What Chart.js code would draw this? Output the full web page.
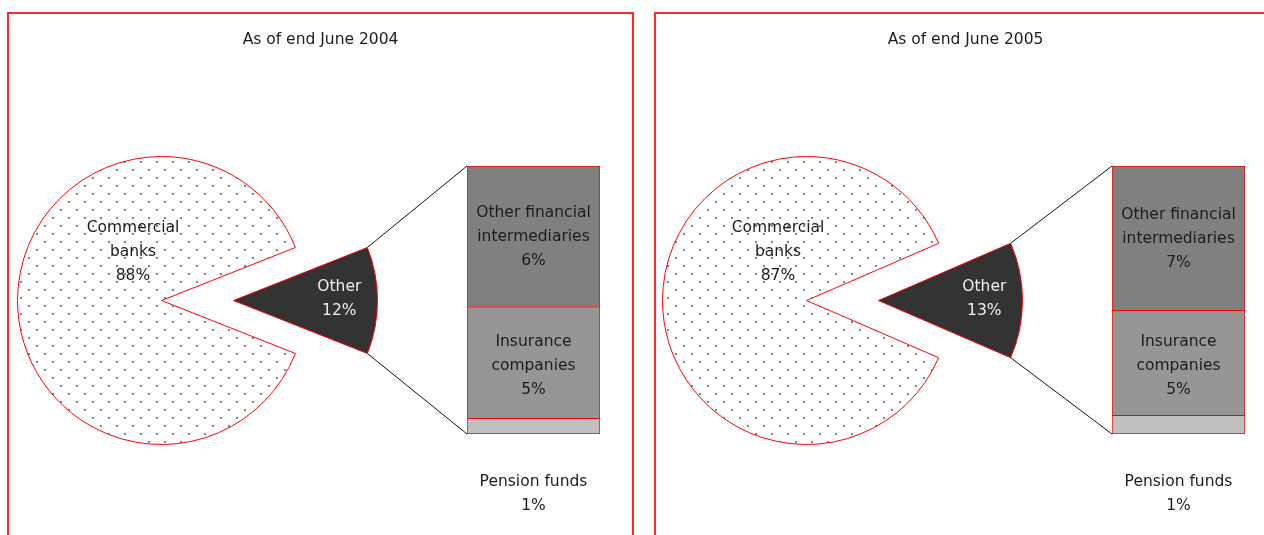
<!DOCTYPE html>
<html lang="en">
<head>
  <meta charset="UTF-8">
  <title>Holders by sector</title>
  <script src="https://cdn.jsdelivr.net/npm/chart.js"></script>
  <style>
    body {
      margin: 0;
      width: 1264px;
      height: 535px;
      overflow: hidden;
      position: relative;
      background: #fff;
    }

    /* red panel frames, open at the bottom / right edge of the picture */
    .frame {
      position: absolute;
      top: 12px;
      width: 627px;
      height: 600px;
      border: 2px solid #ff2a2a;
      box-sizing: border-box;
    }

    canvas {
      position: absolute;
    }
  </style>
</head>
<body>
  <div class="frame" style="left: 7px;"></div>
  <div class="frame" style="left: 654px;"></div>

  <script>
    // data
    const titles = ['As of end June 2004', 'As of end June 2005'];
    const pieLabels = [['Commercial', 'banks'], ['Other']];
    const pieShares = [[88, 12], [87, 13]];
    const barLabels = [['Pension funds'], ['Insurance', 'companies'], ['Other financial', 'intermediaries']];
    const barShares = [[0.7, 5.0, 6.3], [0.9, 5.1, 7.0]];

    // look
    const FONT = "15.5px 'DejaVu Sans', sans-serif";
    const TEXT = '#1c1c1c';
    const RED = '#ff0000';
    const NONE = 'rgba(0,0,0,0)';
    const barColors = ['#c0c0c0', '#969696', '#808080'];
    const R = 144;        // pie radius
    const EXPLODE = 72;   // how far the "Other" slice is pulled out
    const LINE = 24;      // label line height
    const SHIFT = [0, 645];
    const FRAME_X = [7, 654];

    const pct = v => Math.round(v) + '%';

    function makeCanvas(x, y, w, h, z) {
      const c = document.createElement('canvas');
      c.width = w;
      c.height = h;
      c.style.left = x + 'px';
      c.style.top = y + 'px';
      c.style.width = w + 'px';
      c.style.height = h + 'px';
      c.style.zIndex = z || 1;
      document.body.appendChild(c);
      return c;
    }

    function dots(ctx) {
      const c = document.createElement('canvas');
      c.width = 16;
      c.height = 16;
      const g = c.getContext('2d');
      g.fillStyle = '#5a5a5a';
      [[4, 4], [12, 12]].forEach(([x, y]) => {
        g.beginPath();
        g.arc(x, y, 1, 0, Math.PI * 2);
        g.fill();
      });
      return ctx.createPattern(c, 'repeat');
    }

    function drawLines(ctx, lines, x, y, color) {
      ctx.save();
      ctx.font = FONT;
      ctx.fillStyle = color;
      ctx.textAlign = 'center';
      ctx.textBaseline = 'middle';
      const y0 = y - (lines.length - 1) * LINE / 2;
      lines.forEach((t, i) => ctx.fillText(t, x, y0 + i * LINE));
      ctx.restore();
    }

    const baseOpts = {
      responsive: false,
      animation: false,
      events: [],
      plugins: { legend: { display: false }, tooltip: { enabled: false } }
    };

    for (let p = 0; p < titles.length; p++) {
      const dx = SHIFT[p];
      const shares = pieShares[p];
      const parts = barShares[p];
      const total = parts.reduce((a, b) => a + b, 0);
      const rotation = 90 + shares[1] / (shares[0] + shares[1]) * 180;

      // stacked bar breaking down "Other"
      const barCanvas = makeCanvas(440 + dx, 150, 180, 385, 2);
      const barChart = new Chart(barCanvas, {
        type: 'bar',
        data: {
          labels: ['Other'],
          datasets: barLabels.map((l, i) => ({
            label: l.join(' '),
            data: [parts[i]],
            backgroundColor: barColors[i],
            borderColor: RED,
            borderWidth: i === 0 ? 1 : { top: 1, left: 1, right: 1, bottom: 0 },
            borderSkipped: false,
            barPercentage: 1,
            categoryPercentage: 1
          }))
        },
        options: {
          ...baseOpts,
          layout: { padding: { left: 27, right: 20, top: 16, bottom: 101 } },
          scales: {
            x: { display: false, stacked: true },
            y: { display: false, stacked: true, min: 0, max: total }
          }
        },
        plugins: [{
          id: 'barText',
          afterDatasetsDraw(chart) {
            const ctx = chart.ctx;
            let bottom = 0;
            chart.data.datasets.forEach((ds, i) => {
              const el = chart.getDatasetMeta(i).data[0];
              bottom = Math.max(bottom, el.base);
            });
            chart.data.datasets.forEach((ds, i) => {
              const el = chart.getDatasetMeta(i).data[0];
              const lines = barLabels[i].concat(pct(parts[i]));
              const h = el.base - el.y;
              if (h > lines.length * LINE) {
                drawLines(ctx, lines, el.x, (el.y + el.base) / 2 + (i === 1 ? 3 : 1), TEXT);
              } else {
                drawLines(ctx, lines, el.x, bottom + 48 + (lines.length - 1) * LINE / 2, TEXT);
              }
            });
          }
        }]
      });

      // pie canvases cover the inside of the frame
      const left = FRAME_X[p] + 2, top = 14;
      const w = Math.min(623, 1264 - left), h = 521;
      const cx = 161.5 + dx - left, cy = 300.5 - top;

      const pieA = makeCanvas(left, top, w, h, 1);
      const ctxA = pieA.getContext('2d');
      new Chart(pieA, {
        type: 'pie',
        data: {
          labels: pieLabels.map(l => l.join(' ')),
          datasets: [{
            data: shares,
            backgroundColor: [dots(ctxA), NONE],
            borderColor: [RED, NONE],
            borderWidth: 1,
            clip: false
          }]
        },
        options: {
          ...baseOpts,
          rotation: rotation,
          radius: R,
          layout: { padding: { left: 0, right: w - 2 * cx, top: 2 * cy - h, bottom: 0 } }
        },
        plugins: [{
          id: 'pieText',
          afterDatasetsDraw(chart) {
            const ctx = chart.ctx;
            const arc = chart.getDatasetMeta(0).data[0];
            drawLines(ctx, [titles[p]], 320.5 + dx - left, 26, TEXT);
            drawLines(ctx, pieLabels[0].concat(pct(shares[0])),
              arc.x - 0.198 * R, arc.y - 0.34 * R, TEXT);
          }
        }]
      });

      const pieB = makeCanvas(left, top, w, h, 1);
      new Chart(pieB, {
        type: 'pie',
        data: {
          labels: pieLabels.map(l => l.join(' ')),
          datasets: [{
            data: shares,
            backgroundColor: [NONE, '#333333'],
            borderColor: [NONE, RED],
            borderWidth: 1,
            clip: false
          }]
        },
        options: {
          ...baseOpts,
          rotation: rotation,
          radius: R,
          layout: { padding: { left: 0, right: w - 2 * (cx + EXPLODE), top: 2 * cy - h, bottom: 0 } }
        },
        plugins: [{
          id: 'otherText',
          afterDatasetsDraw(chart) {
            const ctx = chart.ctx;
            const arc = chart.getDatasetMeta(0).data[1];
            const mid = (arc.startAngle + arc.endAngle) / 2;
            drawLines(ctx, pieLabels[1].concat(pct(shares[1])),
              arc.x + Math.cos(mid) * 0.735 * R, arc.y + Math.sin(mid) * 0.735 * R - 2, '#eeeeee');

            // connector lines from the slice to the bar
            const ox = barCanvas.offsetLeft - pieB.offsetLeft;
            const oy = barCanvas.offsetTop - pieB.offsetTop;
            const first = barChart.getDatasetMeta(0).data[0];
            const last = barChart.getDatasetMeta(barLabels.length - 1).data[0];
            const bx = ox + first.x - first.width / 2;
            ctx.save();
            ctx.strokeStyle = '#111';
            ctx.lineWidth = 1;
            ctx.beginPath();
            ctx.moveTo(arc.x + Math.cos(arc.startAngle) * R, arc.y + Math.sin(arc.startAngle) * R);
            ctx.lineTo(bx, oy + last.y);
            ctx.moveTo(arc.x + Math.cos(arc.endAngle) * R, arc.y + Math.sin(arc.endAngle) * R);
            ctx.lineTo(bx, oy + first.base);
            ctx.stroke();
            ctx.restore();
          }
        }]
      });
    }
  </script>
</body>
</html>
